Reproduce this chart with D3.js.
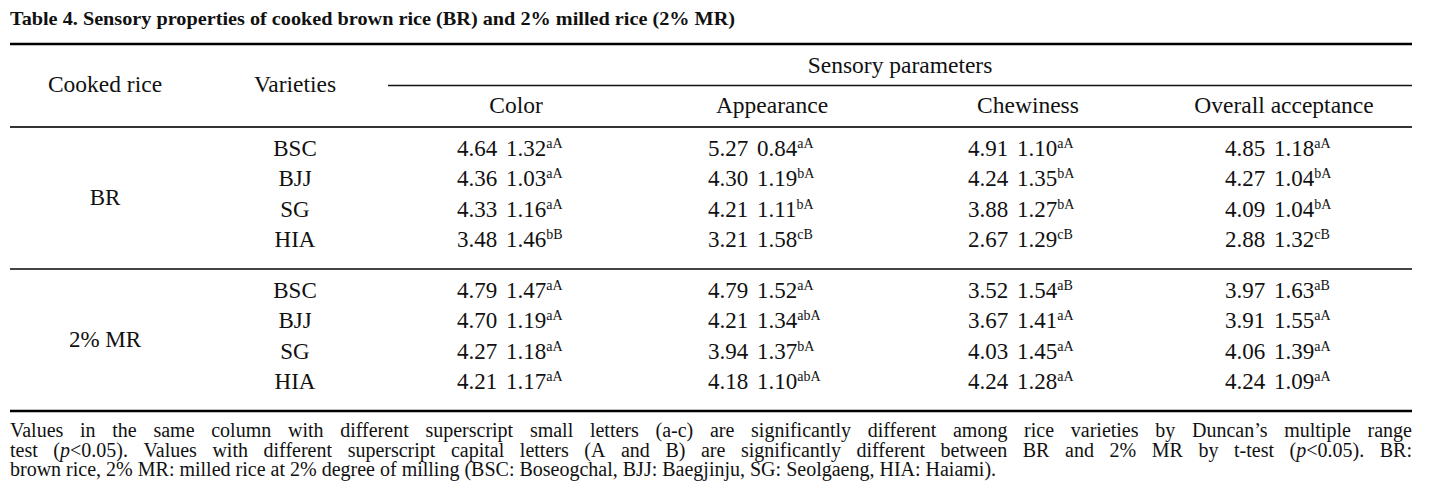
<!DOCTYPE html>
<html>
<head>
<meta charset="utf-8">
<script src="https://cdn.jsdelivr.net/npm/d3@7"></script>
<style>
  body { margin: 0; background: #fff; }
  text { font-family: "Liberation Serif", "Times New Roman", serif; fill: #111; }
</style>
</head>
<body>
<svg id="table" width="1431" height="500"></svg>
<script>
// table contents
const titleText = "Table 4. Sensory properties of cooked brown rice (BR) and 2% milled rice (2% MR)";
const cookedRice = ["BR", "2% MR"];
const varieties = ["BSC", "BJJ", "SG", "HIA"];
const parameters = ["Color", "Appearance", "Chewiness", "Overall acceptance"];

// rows: BR (BSC, BJJ, SG, HIA) then 2% MR (BSC, BJJ, SG, HIA)
const colorMean = [4.64, 4.36, 4.33, 3.48, 4.79, 4.70, 4.27, 4.21];
const colorSD   = [1.32, 1.03, 1.16, 1.46, 1.47, 1.19, 1.18, 1.17];
const colorSig  = ["aA", "aA", "aA", "bB", "aA", "aA", "aA", "aA"];

const appearanceMean = [5.27, 4.30, 4.21, 3.21, 4.79, 4.21, 3.94, 4.18];
const appearanceSD   = [0.84, 1.19, 1.11, 1.58, 1.52, 1.34, 1.37, 1.10];
const appearanceSig  = ["aA", "bA", "bA", "cB", "aA", "abA", "bA", "abA"];

const chewinessMean = [4.91, 4.24, 3.88, 2.67, 3.52, 3.67, 4.03, 4.24];
const chewinessSD   = [1.10, 1.35, 1.27, 1.29, 1.54, 1.41, 1.45, 1.28];
const chewinessSig  = ["aA", "bA", "bA", "cB", "aB", "aA", "aA", "aA"];

const overallMean = [4.85, 4.27, 4.09, 2.88, 3.97, 3.91, 4.06, 4.24];
const overallSD   = [1.18, 1.04, 1.04, 1.32, 1.63, 1.55, 1.39, 1.09];
const overallSig  = ["aA", "bA", "bA", "cB", "aB", "aA", "aA", "aA"];

const footnoteLines = [
  "Values in the same column with different superscript small letters (a-c) are significantly different among rice varieties by Duncan\u2019s multiple range",
  "test (*p*<0.05). Values with different superscript capital letters (A and B) are significantly different between BR and 2% MR by t-test (*p*<0.05). BR:",
  "brown rice, 2% MR: milled rice at 2% degree of milling (BSC: Boseogchal, BJJ: Baegjinju, SG: Seolgaeng, HIA: Haiami)."
];

const svg = d3.select("#table");
const left = 10, right = 1412;

// scales
let groupScale = d3.scaleBand().domain(cookedRice).range([127, 411]);
let rowScale = d3.scalePoint().domain(varieties).range([22, 113]);
let colScale = d3.scaleBand().domain(parameters).range([388, right]);

// title
svg.append("text")
  .attr("x", left).attr("y", 25)
  .attr("font-size", 19).attr("font-weight", "bold")
  .attr("textLength", 725).attr("lengthAdjust", "spacingAndGlyphs")
  .text(titleText);

// rules
function rule(x1, x2, y, w, c) {
  svg.append("line").attr("x1", x1).attr("x2", x2).attr("y1", y).attr("y2", y)
    .attr("stroke", c).attr("stroke-width", w);
}
rule(left, right, 44, 2.6, "#000");
rule(388, right, 85.5, 1.6, "#111");
rule(left, right, 127, 1.8, "#333");
rule(left, right, groupScale("2% MR"), 2, "#444");
rule(left, right, 411, 2.6, "#000");

// header
let head = svg.append("g").attr("font-size", 23.5);
head.append("text").attr("x", 105).attr("y", 92).attr("text-anchor", "middle").text("Cooked rice");
head.append("text").attr("x", 295).attr("y", 92).attr("text-anchor", "middle").text("Varieties");
head.append("text").attr("x", 900).attr("y", 73).attr("text-anchor", "middle").text("Sensory parameters");
head.selectAll(".param").data(parameters).enter().append("text")
  .attr("class", "param")
  .attr("x", d => colScale(d) + colScale.bandwidth() / 2)
  .attr("y", 113)
  .attr("text-anchor", "middle")
  .text(d => d);

// body
let rows = [];
cookedRice.forEach((g, gi) => {
  varieties.forEach((v, vi) => rows.push({ group: g, variety: v, i: gi * varieties.length + vi }));
});
let rowY = d => groupScale(d.group) + rowScale(d.variety) + 7;

let body = svg.append("g").attr("font-size", 23);

body.selectAll(".grp").data(cookedRice).enter().append("text")
  .attr("class", "grp")
  .attr("x", 105)
  .attr("y", d => groupScale(d) + groupScale.bandwidth() / 2 + 7)
  .attr("text-anchor", "middle")
  .text(d => d);

body.selectAll(".var").data(rows).enter().append("text")
  .attr("class", "var")
  .attr("x", 295).attr("y", rowY)
  .attr("text-anchor", "middle")
  .text(d => d.variety);

let columns = [
  { name: "Color", mean: colorMean, sd: colorSD, sig: colorSig, shift: -59 },
  { name: "Appearance", mean: appearanceMean, sd: appearanceSD, sig: appearanceSig, shift: -64 },
  { name: "Chewiness", mean: chewinessMean, sd: chewinessSD, sig: chewinessSig, shift: -60 },
  { name: "Overall acceptance", mean: overallMean, sd: overallSD, sig: overallSig, shift: -59 }
];

columns.forEach(col => {
  let x0 = colScale(col.name) + colScale.bandwidth() / 2 + col.shift;
  let cells = body.selectAll(null).data(rows).enter().append("text")
    .attr("y", rowY);
  cells.append("tspan").attr("x", x0).text(d => col.mean[d.i].toFixed(2));
  cells.append("tspan").attr("x", x0 + 49).text(d => col.sd[d.i].toFixed(2));
  cells.append("tspan").attr("font-size", 14).attr("dy", -8).text(d => col.sig[d.i]);
});

// footnote, justified by word
let foot = svg.append("g").attr("font-size", 20);
footnoteLines.forEach((line, li) => {
  let y = 437 + li * 19.5;
  let words = line.split(" ");
  let nodes = words.map(w => {
    let t = foot.append("text").attr("y", y);
    w.split("*").forEach((part, pi) => {
      if (part === "") return;
      let s = t.append("tspan").text(part);
      if (pi % 2 === 1) s.attr("font-style", "italic");
    });
    return t;
  });
  let widths = nodes.map(n => n.node().getComputedTextLength());
  let total = d3.sum(widths);
  let gap = li < footnoteLines.length - 1 ? (right - left - total) / (words.length - 1) : 5;
  let x = left;
  nodes.forEach((n, k) => {
    n.attr("x", x);
    x += widths[k] + gap;
  });
});
</script>
</body>
</html>
